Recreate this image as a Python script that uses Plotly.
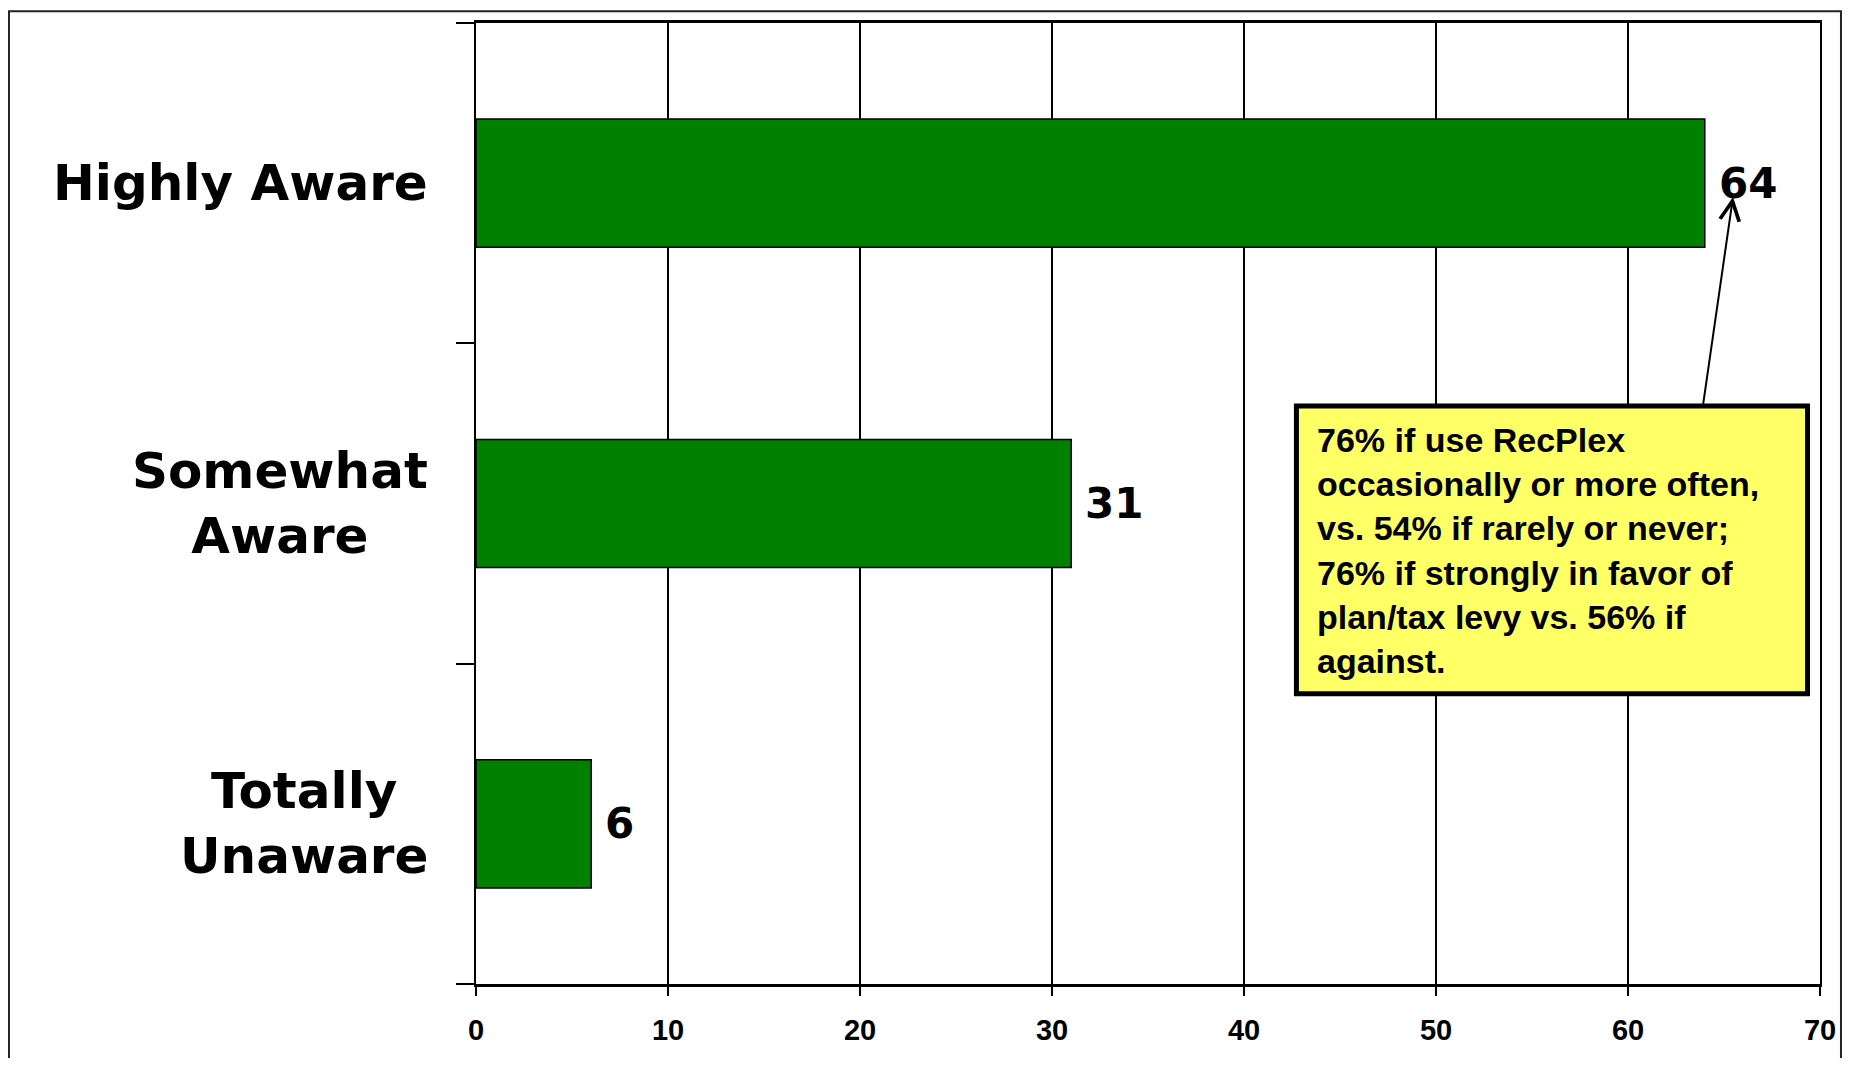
import plotly.graph_objects as go

# ---- data ----
categories = ["Highly Aware", "Somewhat Aware", "Totally Unaware"]
category_labels = ["Highly Aware", "Somewhat<br>Aware", "Totally<br>Unaware"]
values = [64, 31, 6]
x_ticks = [0, 10, 20, 30, 40, 50, 60, 70]
x_tick_labels = ["0", "10", "20", "30", "40", "50", "60", "70"]
callout_lines = [
    "76% if use RecPlex",
    "occasionally or more often,",
    "vs. 54% if rarely or never;",
    "76% if strongly in favor of",
    "plan/tax levy vs. 56% if",
    "against.",
]

# page offset compensation (browser body margin of 8px)
W, H = 1849, 1050

fig = go.Figure()
fig.add_trace(go.Bar(
    x=values, y=categories, orientation="h", width=0.4,
    marker=dict(color="#008000", line=dict(color="black", width=1.5)),
    hoverinfo="skip", showlegend=False,
))

annotations = []
# category labels (centered lines, right-anchored block)
for cat, lab in zip(categories, category_labels):
    annotations.append(dict(
        x=0, xref="paper", y=cat, yref="y", xanchor="right", yanchor="middle",
        xshift=-46, text=lab, showarrow=False, align="center",
        font=dict(family="DejaVu Sans", size=50, weight="bold", color="black"),
    ))
# value labels
for cat, v in zip(categories, values):
    annotations.append(dict(
        x=v, xref="x", y=cat, yref="y", xanchor="left", yanchor="middle",
        xshift=12, text=str(v), showarrow=False,
        font=dict(family="DejaVu Sans", size=42, weight="bold", color="black"),
    ))
# callout text
annotations.append(dict(
    x=43.8, xref="x", y=0.852, yref="y", xanchor="left", yanchor="middle",
    text="<br>".join(callout_lines), showarrow=False, align="left",
    borderwidth=0, borderpad=0,
    font=dict(family="Liberation Sans", size=34, weight="bold", color="black"),
))
# arrow from box to the 64 label
annotations.append(dict(
    x=65.47, xref="x", y=1.957, yref="y",
    ax=63.9, axref="x", ay=1.304, ayref="y",
    text="", showarrow=True, arrowhead=5, arrowsize=1.9, arrowwidth=2,
    arrowcolor="black",
))

fig.update_layout(
    width=W, height=H, autosize=False,
    margin=dict(l=468, r=37, t=13, b=65, pad=0),
    plot_bgcolor="white", paper_bgcolor="white",
    bargap=0.6,
    annotations=annotations,
    xaxis=dict(
        range=[0, 70], tickvals=x_ticks, ticktext=x_tick_labels,
        showgrid=True, gridcolor="black", gridwidth=1.5,
        showline=True, linecolor="black", linewidth=3, mirror=True,
        ticks="outside", ticklen=9, tickwidth=2, tickcolor="black",
        ticklabelstandoff=9,
        tickfont=dict(family="Liberation Sans", size=29, weight="bold", color="black"),
        zeroline=False, fixedrange=True,
    ),
    yaxis=dict(
        type="category", categoryorder="array", categoryarray=categories[::-1],
        range=[-0.5, 2.5], showticklabels=False,
        ticks="outside", tickson="boundaries", ticklen=18, tickwidth=2, tickcolor="black",
        showline=True, linecolor="black", linewidth=2, mirror=True,
        showgrid=False, zeroline=False, fixedrange=True,
    ),
    shapes=[
        # callout box
        dict(type="rect", xref="x", yref="y",
             x0=42.73, x1=69.35, y0=0.406, y1=1.304,
             line=dict(color="black", width=5), fillcolor="#FFFF66", layer="above"),
        # outer chart border
        dict(type="rect", xref="paper", yref="paper",
             x0=-0.3475, x1=1.0156, y0=-0.15, y1=1.0123,
             line=dict(color="#222222", width=2), fillcolor="rgba(0,0,0,0)", layer="above"),
    ],
)

fig.write_html("out.html")
